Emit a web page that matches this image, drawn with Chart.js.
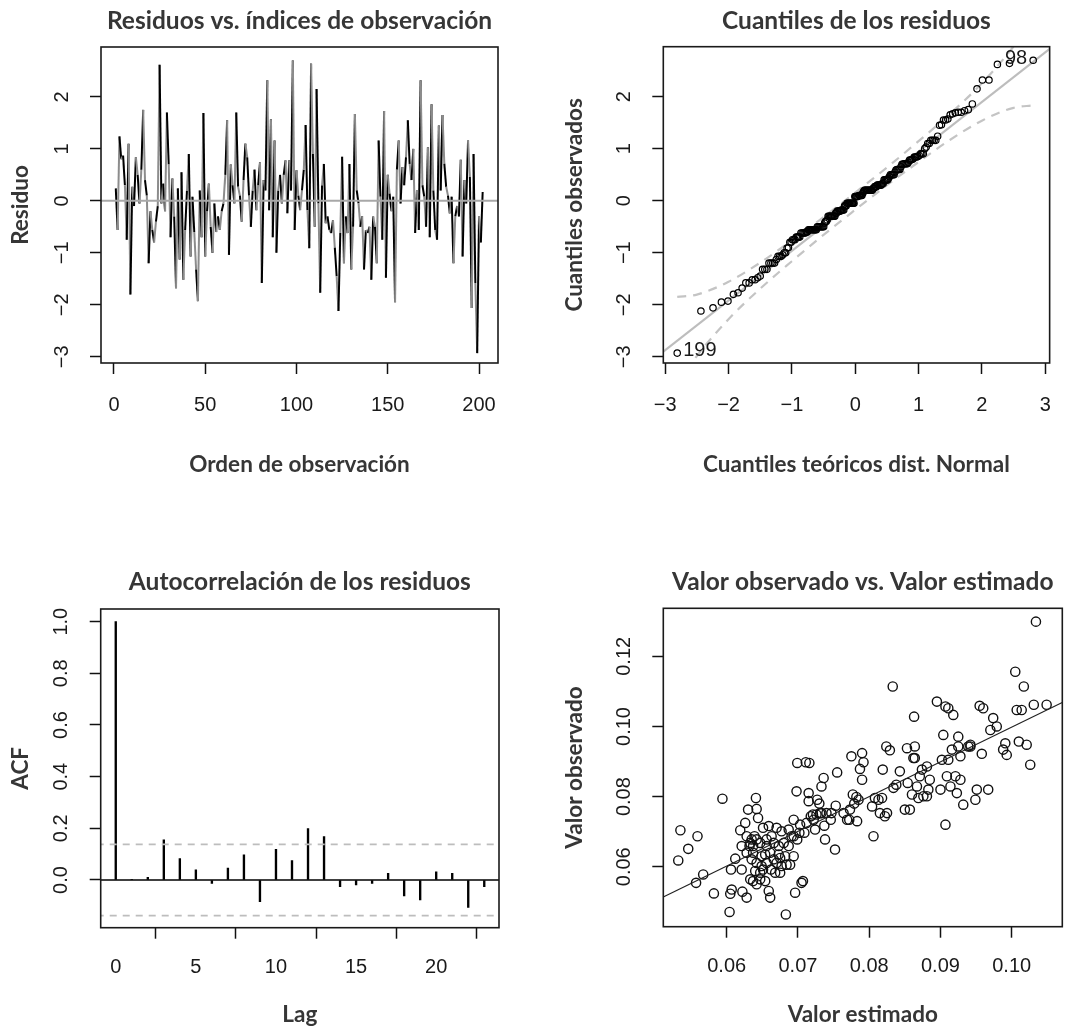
<!DOCTYPE html>
<html><head><meta charset="utf-8">
<script src="https://cdn.jsdelivr.net/npm/chart.js@4.4.1/dist/chart.umd.min.js"></script>
<style>
html,body{margin:0;padding:0;background:#fff;}
#wrap{position:relative;width:1070px;height:1034px;overflow:hidden;}
canvas{position:absolute;}
</style></head><body>
<div id="wrap">
<canvas id="c1" width="535" height="517" style="left:0;top:0"></canvas>
<canvas id="c2" width="535" height="517" style="left:535px;top:0"></canvas>
<canvas id="c3" width="535" height="517" style="left:0;top:517px"></canvas>
<canvas id="c4" width="535" height="517" style="left:535px;top:517px"></canvas>
</div>
<script>
// ---------------- DATA ----------------
const residuals = [0.24,-0.56,1.24,0.8,0.87,0.3,-0.75,1.1,-1.8,0.27,
-0.1,0.84,0.5,-0.05,0.6,1.75,0.4,0.1,-1.2,-0.2,
-0.56,-0.8,-0.4,-0.1,2.62,-0.05,0.33,-0.2,1.7,0.7,
-0.7,0.43,-0.3,-1.68,0.24,-1.13,0.55,-1.52,-0.56,0.2,
0.9,-1.07,0.08,-0.6,-1.32,-1.93,0.2,-0.7,1.69,-1.07,
-0.2,0.33,-0.5,-1.0,-0.05,-0.6,-0.3,-0.56,-0.2,-0.05,
0.5,1.55,-1.04,0.7,0.3,-0.05,1.7,0.27,0.1,-0.4,
0.4,1.1,0.84,0.1,-0.5,0.2,0.6,-0.18,0.3,0.74,
-1.58,0.4,0.2,2.32,-0.18,1.57,-0.7,1.16,-1.0,0.2,
0.5,-0.05,0.5,0.78,-0.24,0.78,0.2,2.7,-0.56,0.59,
0.1,-0.18,0.2,0.6,1.46,-0.18,-0.91,2.64,0.9,-0.5,
2.15,-0.05,-1.77,0.3,0.71,-0.43,-0.3,-0.56,-0.62,-0.37,
-0.9,-1.45,-2.12,-0.62,0.85,-1.2,-0.3,-0.62,0.71,-1.32,
-0.5,1.67,0.2,-0.05,-0.5,-0.3,-1.32,-0.56,-0.62,-0.5,
-1.52,-0.3,-0.5,-1.2,1.16,0.08,-0.75,1.73,-1.48,0.5,
0.14,-0.2,0.08,-1.95,0.6,1.16,-0.05,0.65,0.3,0.84,
1.55,0.71,0.4,1.0,-0.62,0.2,-0.56,2.32,0.3,0.08,
-0.5,1.03,-0.7,1.86,0.2,-0.56,-0.75,1.45,0.2,1.65,
0.71,0.27,0.1,-0.24,0.08,-1.2,-0.3,-0.1,-0.3,0.79,
-1.07,0.4,-0.05,1.16,0.46,-2.06,0.9,-1.58,-2.93,-0.3,
-0.8,0.17];
const obsIndex = residuals.map((_, i) => i + 1);

// QQ plot reference line and confidence envelope
const qqLine = { intercept: -0.01, slope: 0.954 };
const qqEnvX     = [-2.81,-2.5,-2,-1.5,-1,-0.5,0,0.5,1,1.5,2,2.5,2.81];
const qqEnvUpper = [-1.85,-1.805,-1.558,-1.191,-0.764,-0.317,0.155,0.637,1.144,1.671,2.258,2.965,3.511];
const qqEnvLower = [-3.53,-2.985,-2.278,-1.691,-1.164,-0.657,-0.175,0.297,0.744,1.171,1.538,1.785,1.831];

// ACF
const acfLags   = [0,1,2,3,4,5,6,7,8,9,10,11,12,13,14,15,16,17,18,19,20,21,22,23];
const acfValues = [1.0,0.003,0.01,0.155,0.083,0.039,-0.013,0.046,0.097,-0.084,0.119,0.075,0.199,0.168,-0.026,-0.019,-0.013,0.026,-0.062,-0.077,0.032,0.026,-0.106,-0.026];
const acfConf = 0.138;

// Observed vs estimated
const estimated = [0.0535,0.0532,0.0546,0.0559,0.0557,0.0567,0.0594,0.0582,0.0604,0.0605,
0.0607,0.0606,0.0612,0.0619,0.0621,0.0622,0.0626,0.0628,0.0630,0.0632,
0.0635,0.0637,0.0639,0.0641,0.0642,0.0644,0.0640,0.0642,0.0647,0.0649,
0.0651,0.0654,0.0656,0.0659,0.0659,0.0661,0.0662,0.0666,0.0668,0.0670,
0.0673,0.0675,0.0677,0.0680,0.0683,0.0684,0.0687,0.0689,0.0687,0.0691,
0.0694,0.0696,0.0698,0.0699,0.0699,0.0703,0.0705,0.0707,0.0709,0.0711,
0.0715,0.0716,0.0715,0.0718,0.0721,0.0724,0.0727,0.0730,0.0731,0.0733,
0.0736,0.0737,0.0738,0.0740,0.0746,0.0747,0.0752,0.0753,0.0755,0.0769,
0.0772,0.0775,0.0777,0.0779,0.0782,0.0783,0.0785,0.0787,0.0790,0.0790,
0.0792,0.0804,0.0806,0.0808,0.0813,0.0815,0.0818,0.0819,0.0822,0.0825,
0.0824,0.0829,0.0833,0.0834,0.0838,0.0843,0.0850,0.0853,0.0854,0.0857,
0.0860,0.0863,0.0864,0.0864,0.0867,0.0869,0.0871,0.0874,0.0876,0.0881,
0.0883,0.0895,0.0900,0.0904,0.0907,0.0907,0.0909,0.0911,0.0911,0.0914,
0.0916,0.0918,0.0921,0.0923,0.0925,0.0925,0.0932,0.0939,0.0942,0.0949,
0.0951,0.0955,0.0958,0.0960,0.0967,0.0970,0.0974,0.0979,0.0988,0.0993,
0.0991,0.1005,0.1007,0.1010,0.1014,0.1017,0.1021,0.1026,0.1031,0.1034,
0.1049,0.0633,0.0637,0.0642,0.0647,0.0635,0.0642,0.0649,0.0656,0.0661,
0.0666,0.0673,0.0677,0.0682,0.0628,0.0633,0.0637,0.0647,0.0654,0.0656,
0.0663,0.0670,0.0675,0.0694,0.0702,0.0712,0.0722,0.0726,0.0733,0.0928,
0.0885,0.0942,0.0902,0.0862,0.0764,0.0773,0.0621,0.0651,0.0628,0.0694,
0.0881,0.0928];
const observed = [0.0704,0.0618,0.0651,0.0687,0.0554,0.0578,0.0794,0.0524,0.0471,0.0523,
0.0535,0.0592,0.0623,0.0704,0.0592,0.0529,0.0725,0.0512,0.0763,0.0659,
0.0678,0.0640,0.0687,0.0796,0.0765,0.0739,0.0588,0.0550,0.0564,0.0602,
0.0711,0.0635,0.0659,0.0716,0.0531,0.0512,0.0592,0.0668,0.0583,0.0711,
0.0635,0.0625,0.0701,0.0668,0.0464,0.0606,0.0659,0.0606,0.0706,0.0687,
0.0630,0.0526,0.0815,0.0896,0.0678,0.0720,0.0554,0.0559,0.0697,0.0898,
0.0787,0.0896,0.0810,0.0744,0.0749,0.0706,0.0791,0.0780,0.0753,0.0829,
0.0853,0.0717,0.0678,0.0753,0.0734,0.0753,0.0649,0.0774,0.0869,0.0734,
0.0734,0.0915,0.0806,0.0780,0.0799,0.0730,0.0791,0.0879,0.0924,0.0848,
0.0898,0.0772,0.0687,0.0796,0.0791,0.0753,0.0796,0.0877,0.0744,0.0753,
0.0943,0.0932,0.1114,0.0825,0.0834,0.0872,0.0763,0.0938,0.0839,0.0763,
0.0806,0.1028,0.0943,0.0910,0.0829,0.0796,0.0858,0.0877,0.0801,0.0801,
0.0820,0.1071,0.0820,0.0976,0.1057,0.0720,0.0858,0.1052,0.0905,0.0829,
0.0934,0.1033,0.0858,0.0810,0.0971,0.0943,0.0777,0.0943,0.0943,0.0791,
0.0820,0.1059,0.0922,0.1052,0.0820,0.0990,0.1024,0.1000,0.0934,0.0919,
0.0952,0.1156,0.1047,0.0957,0.1047,0.1114,0.0948,0.0891,0.1062,0.1299,
0.1062,0.0668,0.0659,0.0678,0.0668,0.0621,0.0611,0.0630,0.0611,0.0640,
0.0621,0.0659,0.0602,0.0630,0.0640,0.0564,0.0559,0.0583,0.0559,0.0678,
0.0687,0.0611,0.0583,0.0687,0.0697,0.0725,0.0734,0.0749,0.0753,0.0848,
0.0848,0.0948,0.0905,0.0910,0.0753,0.0763,0.0659,0.0592,0.0687,0.0734,
0.0886,0.0915];
const fitLine = { x: [0.04, 0.12], y: [0.0404, 0.1196] };

// Tick values
const ticks1x = [0,50,100,150,200],        ticks1y = [-3,-2,-1,0,1,2];
const ticks2x = [-3,-2,-1,0,1,2,3],        ticks2y = [-3,-2,-1,0,1,2];
const ticks3x = [0,5,10,15,20],            ticks3y = [0,0.2,0.4,0.6,0.8,1.0];
const ticks4x = [0.06,0.07,0.08,0.09,0.10], ticks4y = [0.06,0.08,0.10,0.12];

// --------------- helpers ---------------
function qnorm(p){ // Acklam's inverse normal CDF
 const a=[-3.969683028665376e+01,2.209460984245205e+02,-2.759285104469687e+02,1.383577518672690e+02,-3.066479806614716e+01,2.506628277459239e+00];
 const b=[-5.447609879822406e+01,1.615858368580409e+02,-1.556989798598866e+02,6.680131188771972e+01,-1.328068155288572e+01];
 const c=[-7.784894002430293e-03,-3.223964580411365e-01,-2.400758277161838e+00,-2.549671348754411e+00,4.374664141464968e+00,2.938163982698783e+00];
 const d=[7.784695709041462e-03,3.224671290700398e-01,2.445134137142996e+00,3.754408661907416e+00];
 const pl=0.02425, ph=1-pl; let q,r;
 if(p<pl){q=Math.sqrt(-2*Math.log(p));return (((((c[0]*q+c[1])*q+c[2])*q+c[3])*q+c[4])*q+c[5])/((((d[0]*q+d[1])*q+d[2])*q+d[3])*q+1);}
 if(p>ph){q=Math.sqrt(-2*Math.log(1-p));return -(((((c[0]*q+c[1])*q+c[2])*q+c[3])*q+c[4])*q+c[5])/((((d[0]*q+d[1])*q+d[2])*q+d[3])*q+1);}
 q=p-0.5;r=q*q;return (((((a[0]*r+a[1])*r+a[2])*r+a[3])*r+a[4])*r+a[5])*q/(((((b[0]*r+b[1])*r+b[2])*r+b[3])*r+b[4])*r+1);
}
const n = residuals.length;
const order = obsIndex.slice().sort((i, j) => residuals[i-1] - residuals[j-1]);
const qqPoints = order.map((id, k) => ({ x: qnorm((k + 1 - 0.5) / n), y: residuals[id-1], id }));
const idMax = order[order.length-1], idMin = order[0];

const TICK_FONT  = { family: "'Liberation Sans', Arial, sans-serif", size: 20 };
const TITLE_FONT = { family: "Lato, 'Open Sans', sans-serif", size: 24.5, weight: 'bold' };
const LABEL_FONT = { family: "Lato, 'Open Sans', sans-serif", size: 22.5, weight: 'bold' };
const TXT = '#363636', TICKTXT = '#1a1a1a';
const minus = s => String(s).replace('-', '\u2212');

function gridOpts(){ return { display: true, drawOnChartArea: false, drawTicks: true, tickLength: 11, tickWidth: 1.5, tickColor: '#111', color: '#111' }; }
function axisX(c){
  return { type: 'linear', position: 'bottom', min: c.min, max: c.max, offset: false,
    afterBuildTicks: s => { s.ticks = c.ticks.map(v => ({ value: v })); },
    afterFit: s => { s.height = c.height; },
    grid: gridOpts(), border: { display: false },
    ticks: { font: TICK_FONT, color: TICKTXT, padding: c.pad, maxRotation: 0, minRotation: 0, autoSkip: false, callback: v => minus(c.fmt(v)) },
    title: { display: true, text: c.title, font: LABEL_FONT, color: TXT, padding: { top: 0, bottom: c.titlePad } } };
}
function axisY(c){
  return { type: 'linear', position: 'left', min: c.min, max: c.max,
    afterBuildTicks: s => { s.ticks = c.ticks.map(v => ({ value: v })); },
    afterFit: s => { s.width = c.width; },
    grid: gridOpts(), border: { display: false },
    ticks: { font: TICK_FONT, color: TICKTXT, padding: c.pad, minRotation: 90, maxRotation: 90, crossAlign: 'center', autoSkip: false, callback: v => minus(c.fmt(v)) },
    title: { display: true, text: c.title, font: LABEL_FONT, color: TXT, padding: { top: c.titlePad, bottom: 0 } } };
}
function basePlugins(title, pt, pb){
  return { legend: { display: false }, tooltip: { enabled: false },
    title: { display: true, text: title, font: TITLE_FONT, color: TXT, fullSize: false, padding: { top: pt, bottom: pb } } };
}
const boxPlugin = { id: 'box', afterDraw(chart){ const { ctx, chartArea: a } = chart; ctx.save(); ctx.strokeStyle = '#1a1a1a'; ctx.lineWidth = 1.6; ctx.strokeRect(a.left, a.top, a.right - a.left, a.bottom - a.top); ctx.restore(); } };
const noAnim = { animation: false, responsive: false, events: [] };

// --------------- Panel 1: residuals vs index ---------------
new Chart(document.getElementById('c1'), {
  type: 'scatter',
  data: { datasets: [
    { type: 'line', data: [{ x: -20, y: 0 }, { x: 230, y: 0 }], borderColor: '#a8a8a8', borderWidth: 2, pointRadius: 0, clip: 0 },
    { type: 'line', data: obsIndex.map((x, i) => ({ x, y: residuals[i] })), borderWidth: 2, pointRadius: 0, tension: 0, clip: 0,
      borderColor: '#000', segment: { borderColor: ctx => (ctx.p0DataIndex % 2 === 0 ? '#000' : '#8c8c8c') } }
  ] },
  options: Object.assign({}, noAnim, {
    layout: { padding: { left: 0, right: 37, top: 0, bottom: 0 } },
    plugins: basePlugins('Residuos vs. índices de observación', 6.3, 11.3),
    scales: {
      x: axisX({ min: -7.1, max: 210.4, ticks: ticks1x, height: 154, pad: 19, fmt: v => v, title: 'Orden de observación', titlePad: 38.5 }),
      y: axisY({ min: -3.12, max: 2.96, ticks: ticks1y, width: 101, pad: 16.6, fmt: v => v, title: 'Residuo', titlePad: 7.5 })
    } }),
  plugins: [boxPlugin]
});

// --------------- Panel 2: QQ plot ---------------
const qqLabelPlugin = { id: 'qqlabels', afterDatasetsDraw(chart){
  const { ctx, scales: { x, y } } = chart;
  ctx.save(); ctx.font = "20px 'Liberation Sans', Arial, sans-serif"; ctx.fillStyle = '#1a1a1a'; ctx.textBaseline = 'middle';
  const pMax = qqPoints[qqPoints.length-1], pMin = qqPoints[0];
  ctx.textAlign = 'right'; ctx.fillText(String(idMax), x.getPixelForValue(pMax.x) - 6, y.getPixelForValue(pMax.y) - 2);
  ctx.textAlign = 'left';  ctx.fillText(String(idMin), x.getPixelForValue(pMin.x) + 6, y.getPixelForValue(pMin.y) - 3);
  ctx.restore(); } };
new Chart(document.getElementById('c2'), {
  type: 'scatter',
  data: { datasets: [
    { data: qqPoints, pointRadius: 3.2, pointBorderWidth: 1.2, pointBorderColor: '#000', pointBackgroundColor: 'rgba(0,0,0,0)', showLine: false },
    { type: 'line', data: [-4, 4].map(v => ({ x: v, y: qqLine.intercept + qqLine.slope * v })), borderColor: '#bdbdbd', borderWidth: 2.2, pointRadius: 0, clip: 0 },
    { type: 'line', data: qqEnvX.map((v, i) => ({ x: v, y: qqEnvUpper[i] })), borderColor: '#c4c4c4', borderWidth: 2.2, borderDash: [9, 7], pointRadius: 0, cubicInterpolationMode: 'monotone', clip: 0 },
    { type: 'line', data: qqEnvX.map((v, i) => ({ x: v, y: qqEnvLower[i] })), borderColor: '#c4c4c4', borderWidth: 2.2, borderDash: [9, 7], pointRadius: 0, cubicInterpolationMode: 'monotone', clip: 0 }
  ] },
  options: Object.assign({}, noAnim, {
    layout: { padding: { left: 0, right: 7.7, top: 0, bottom: 0 } },
    plugins: basePlugins('Cuantiles de los residuos', 6.3, 11.0),
    scales: {
      x: axisX({ min: -3.03, max: 3.07, ticks: ticks2x, height: 154, pad: 19, fmt: v => v, title: 'Cuantiles teóricos dist. Normal', titlePad: 38.5 }),
      y: axisY({ min: -3.12, max: 2.96, ticks: ticks2y, width: 128.3, pad: 16.6, fmt: v => v, title: 'Cuantiles observados', titlePad: 26.5 })
    } }),
  plugins: [boxPlugin, qqLabelPlugin]
});

// --------------- Panel 3: ACF ---------------
new Chart(document.getElementById('c3'), {
  type: 'bar',
  data: { datasets: [
    { type: 'line', data: [{ x: -2, y: 0 }, { x: 26, y: 0 }], borderColor: '#000', borderWidth: 1.6, pointRadius: 0, clip: 0 },
    { type: 'line', data: [{ x: -2, y: acfConf }, { x: 26, y: acfConf }], borderColor: '#bdbdbd', borderWidth: 1.6, borderDash: [7, 6], pointRadius: 0, clip: 0 },
    { type: 'line', data: [{ x: -2, y: -acfConf }, { x: 26, y: -acfConf }], borderColor: '#bdbdbd', borderWidth: 1.6, borderDash: [7, 6], pointRadius: 0, clip: 0 },
    { type: 'bar', data: acfLags.map((x, i) => ({ x, y: acfValues[i] })), backgroundColor: '#000', barThickness: 1.7, borderWidth: 0 }
  ] },
  options: Object.assign({}, noAnim, {
    layout: { padding: { left: 0, right: 36, top: 0, bottom: 0 } },
    plugins: basePlugins('Autocorrelación de los residuos', 50.3, 12.3),
    scales: {
      x: axisX({ min: -0.94, max: 23.92, ticks: ticks3x, height: 106.3, pad: 17, fmt: v => v, title: 'Lag', titlePad: 5.5 }),
      y: axisY({ min: -0.1847, max: 1.049, ticks: ticks3y, width: 100.7, pad: 14.1, fmt: v => v.toFixed(1), title: 'ACF', titlePad: 7.5 })
    } }),
  plugins: [boxPlugin]
});

// --------------- Panel 4: observed vs estimated ---------------
new Chart(document.getElementById('c4'), {
  type: 'scatter',
  data: { datasets: [
    { type: 'line', data: fitLine.x.map((v, i) => ({ x: v, y: fitLine.y[i] })), borderColor: '#222', borderWidth: 1.2, pointRadius: 0, clip: 0 },
    { data: estimated.map((v, i) => ({ x: v, y: observed[i] })), pointRadius: 4.6, pointBorderWidth: 1.4, pointBorderColor: '#111', pointBackgroundColor: 'rgba(0,0,0,0)' }
  ] },
  options: Object.assign({}, noAnim, {
    layout: { padding: { left: 0, right: 7.7, top: 0, bottom: 0 } },
    plugins: basePlugins('Valor observado vs. Valor estimado', 50.3, 11.6),
    scales: {
      x: axisX({ min: 0.0511, max: 0.1071, ticks: ticks4x, height: 107.3, pad: 17, fmt: v => v.toFixed(2), title: 'Valor estimado', titlePad: 5.5 }),
      y: axisY({ min: 0.0429, max: 0.1337, ticks: ticks4y, width: 128.3, pad: 8.5, fmt: v => v.toFixed(2), title: 'Valor observado', titlePad: 26.5 })
    } }),
  plugins: [boxPlugin]
});
</script>
</body></html>
